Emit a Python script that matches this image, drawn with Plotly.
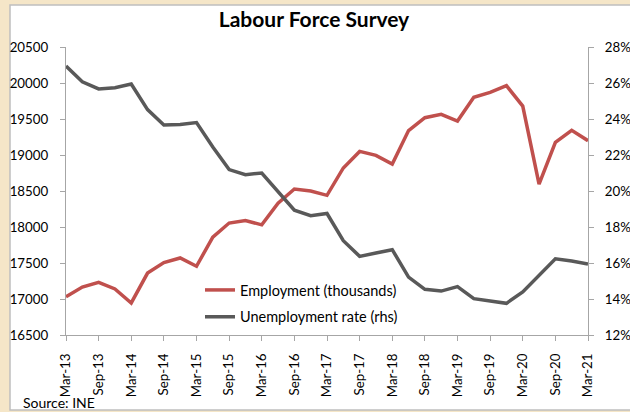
import plotly.graph_objects as go

quarters = ["Mar-13","Jun-13","Sep-13","Dec-13","Mar-14","Jun-14","Sep-14","Dec-14",
            "Mar-15","Jun-15","Sep-15","Dec-15","Mar-16","Jun-16","Sep-16","Dec-16",
            "Mar-17","Jun-17","Sep-17","Dec-17","Mar-18","Jun-18","Sep-18","Dec-18",
            "Mar-19","Jun-19","Sep-19","Dec-19","Mar-20","Jun-20","Sep-20","Dec-20","Mar-21"]

employment = [17030, 17165, 17230, 17140, 16945, 17360, 17505, 17570,
              17455, 17860, 18055, 18090, 18030, 18330, 18528, 18500,
              18440, 18820, 19050, 18995, 18875, 19340, 19518, 19565,
              19472, 19801, 19870, 19963, 19680, 18597, 19176, 19342, 19199]

unemployment = [26.94, 26.07, 25.67, 25.74, 25.94, 24.52, 23.67, 23.69,
                23.80, 22.44, 21.19, 20.91, 21.00, 19.98, 18.93, 18.63,
                18.75, 17.24, 16.37, 16.56, 16.74, 15.22, 14.54, 14.44,
                14.69, 14.02, 13.91, 13.76, 14.39, 15.33, 16.23, 16.11, 15.94]

tick_labels = quarters[::2]

W, H = 630, 412
L, R, T, B = 66, 42, 47, 77
pw, ph = W - L - R, H - T - B

xs = list(range(len(quarters)))

fig = go.Figure()
fig.add_trace(go.Scatter(x=xs, y=employment, name="Employment (thousands)", mode="lines",
                         line=dict(color="#C0504D", width=3.5), yaxis="y", legendgroup="a"))
fig.add_trace(go.Scatter(x=xs, y=unemployment, name="Unemployment rate (rhs)", mode="lines",
                         line=dict(color="#595959", width=3.5), yaxis="y2", legendgroup="b"))

font = "Lato, 'Open Sans', sans-serif"
axcol = "#A6A6A6"
tf = 13.3

fig.update_layout(
    width=W, height=H,
    margin=dict(l=L, r=R, t=T, b=B, autoexpand=False),
    paper_bgcolor="#F5E6C8",
    plot_bgcolor="rgba(0,0,0,0)",
    font=dict(family=font, size=tf, color="#000000"),
    title=dict(text="<b>Labour Force Survey</b>", x=314/W, xanchor="center",
               y=1 - 20/H, yanchor="middle", font=dict(size=21, family=font, color="#000000")),
    xaxis=dict(range=[0, len(quarters) - 1], tickmode="array", tickvals=xs[::2], ticktext=tick_labels,
               tickangle=-90, showline=True, linecolor=axcol, linewidth=1.3, ticks="outside",
               ticklen=5, tickcolor=axcol, showgrid=False, zeroline=False, automargin=False,
               tickfont=dict(size=tf, family=font), ticklabelstandoff=7),
    yaxis=dict(range=[16500, 20500], dtick=500, tick0=16500, tickformat="d", showline=True,
               linecolor=axcol, automargin=False,
               linewidth=1.3, ticks="outside", ticklen=5, tickcolor=axcol, showgrid=False,
               zeroline=False, tickfont=dict(size=tf, family=font), ticklabelstandoff=9),
    yaxis2=dict(range=[12, 28], dtick=2, tick0=12, ticksuffix="%", overlaying="y", side="right",
                showline=True, linecolor=axcol, linewidth=1.3, ticks="outside", ticklen=5,
                tickcolor=axcol, showgrid=False, zeroline=False, automargin=False,
                tickfont=dict(size=tf, family=font), ticklabelstandoff=8),
    legend=dict(x=(200 - L) / pw, y=(T + ph - 274) / ph, xanchor="left", yanchor="top",
                bgcolor="rgba(0,0,0,0)", font=dict(size=14.5, family=font), tracegroupgap=5,
                traceorder="grouped", itemwidth=30),
    showlegend=True,
)

# white chart frame on beige background
fig.add_shape(type="rect", xref="paper", yref="paper", layer="below",
              x0=(10 - L) / pw, x1=(W + 5 - L) / pw,
              y0=(T + ph - 410) / ph, y1=(T + ph - 5) / ph,
              fillcolor="white", line=dict(color="#BFBFBF", width=1.5))

fig.add_annotation(text="Source: INE", xref="paper", yref="paper",
                   x=(21 - L) / pw, y=(T + ph - 402) / ph, xanchor="left", yanchor="middle",
                   showarrow=False, font=dict(size=14, family=font, color="#000000"))

fig.write_html("out.html", config={"displayModeBar": False},
               post_script="document.body.style.margin='0';document.body.style.overflow='hidden';")
